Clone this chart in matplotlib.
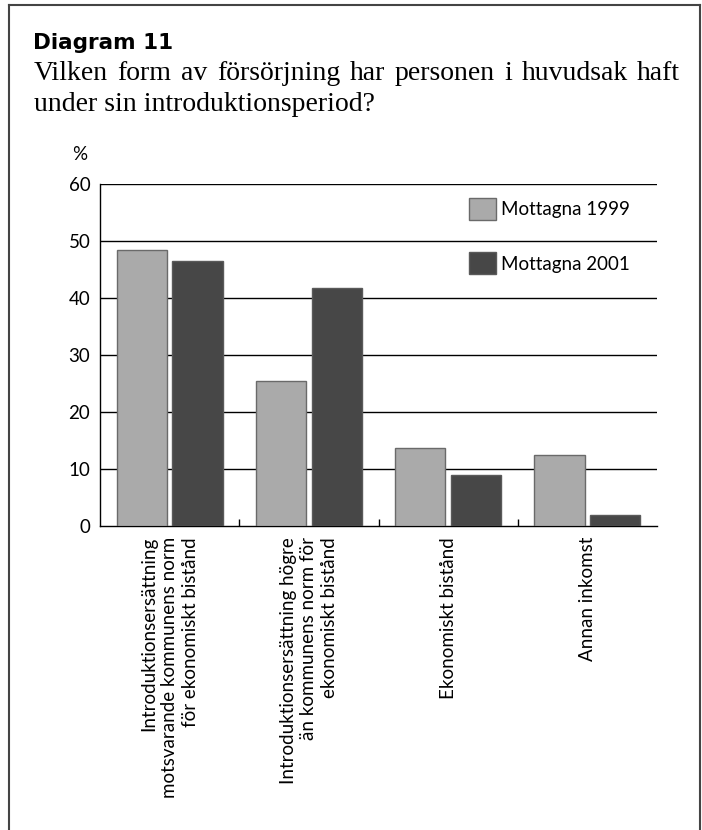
import matplotlib
matplotlib.use("Agg")
import matplotlib.pyplot as plt
import numpy as np
from matplotlib.lines import Line2D

categories = [
    "Introduktionsersättning\nmotsvarande kommunens norm\nför ekonomiskt bistånd",
    "Introduktionsersättning högre\nän kommunens norm för\nekonomiskt bistånd",
    "Ekonomiskt bistånd",
    "Annan inkomst",
]
mottagna_1999 = [48.5, 25.4, 13.6, 12.4]
mottagna_2001 = [46.5, 41.8, 8.9, 2.0]
yticks = [0, 10, 20, 30, 40, 50, 60]

sans = "Lato"
serif = "Liberation Serif"
fs = 13.5

fig = plt.figure(figsize=(7.02, 8.30), dpi=100)
ax = fig.add_axes([100 / 702, 1 - 526 / 830, 557 / 702, 342 / 830])

x = np.arange(len(categories))
w = 0.36
ax.bar(x - 0.2, mottagna_1999, w, color="#aaaaaa", edgecolor="#6a6a6a",
       linewidth=1, label="Mottagna 1999", zorder=3)
ax.bar(x + 0.2, mottagna_2001, w, color="#474747", edgecolor="#5a5a5a",
       linewidth=1, label="Mottagna 2001", zorder=3)

ax.set_xlim(-0.5, len(categories) - 0.5)
ax.set_ylim(0, 60)
ax.set_yticks(yticks)
ax.set_yticklabels([str(v) for v in yticks], fontfamily=sans, fontsize=fs)
ax.tick_params(axis="y", length=0, pad=7)
for v in yticks[1:]:
    ax.axhline(v, color="black", lw=1, zorder=1)

ax.set_xticks(x)
ax.set_xticklabels(categories, rotation=90, fontfamily=sans, fontsize=fs,
                   va="top", ha="center", multialignment="right",
                   linespacing=1.25)
ax.tick_params(axis="x", length=0, pad=8)
ax.set_xticks(x[:-1] + 0.5, minor=True)
ax.tick_params(axis="x", which="minor", direction="in", length=5, width=1)

for s in ["top", "right"]:
    ax.spines[s].set_visible(False)
ax.spines["left"].set_linewidth(1)
ax.spines["bottom"].set_linewidth(1)

leg = ax.legend(loc="upper left", bbox_to_anchor=(0.6625, 0.959), frameon=False,
                borderpad=0, borderaxespad=0, handlelength=1.45, handleheight=1.45,
                handletextpad=0.25, labelspacing=1.7,
                prop={"family": sans, "size": fs})

ax.text(-0.022, 1.07, "%", transform=ax.transAxes, fontfamily=sans, fontsize=fs,
        ha="right", va="baseline")

fig.text(33 / 702, 1 - 49 / 830, "Diagram 11", fontfamily="DejaVu Sans",
         fontweight="bold", fontsize=15.5, ha="left", va="baseline")

# justified subtitle, first line
sub_fs = 20
line1 = "Vilken form av försörjning har personen i huvudsak haft".split()
fig.canvas.draw()
r = fig.canvas.get_renderer()
x0, x1 = 34, 680
tw = []
objs = []
for word in line1:
    t = fig.text(0, 0, word, fontfamily=serif, fontsize=sub_fs, va="baseline")
    objs.append(t)
    tw.append(t.get_window_extent(r).width)
gap = (x1 - x0 - sum(tw)) / (len(line1) - 1)
pos = x0
for t, wd in zip(objs, tw):
    t.set_position((pos / 702, 1 - 80 / 830))
    pos += wd + gap
fig.text(34 / 702, 1 - 111 / 830, "under sin introduktionsperiod?",
         fontfamily=serif, fontsize=sub_fs, va="baseline")

# frame
c = "#444444"
fig.add_artist(Line2D([9 / 702, 9 / 702], [0, 1 - 5 / 830], color=c, lw=1.5,
                      transform=fig.transFigure))
fig.add_artist(Line2D([9 / 702, 700 / 702], [1 - 5 / 830, 1 - 5 / 830], color=c,
                      lw=1.5, transform=fig.transFigure))
fig.add_artist(Line2D([700 / 702, 700 / 702], [0, 1 - 5 / 830], color=c, lw=1.5,
                      transform=fig.transFigure))

fig.savefig("out.png", dpi=100)
